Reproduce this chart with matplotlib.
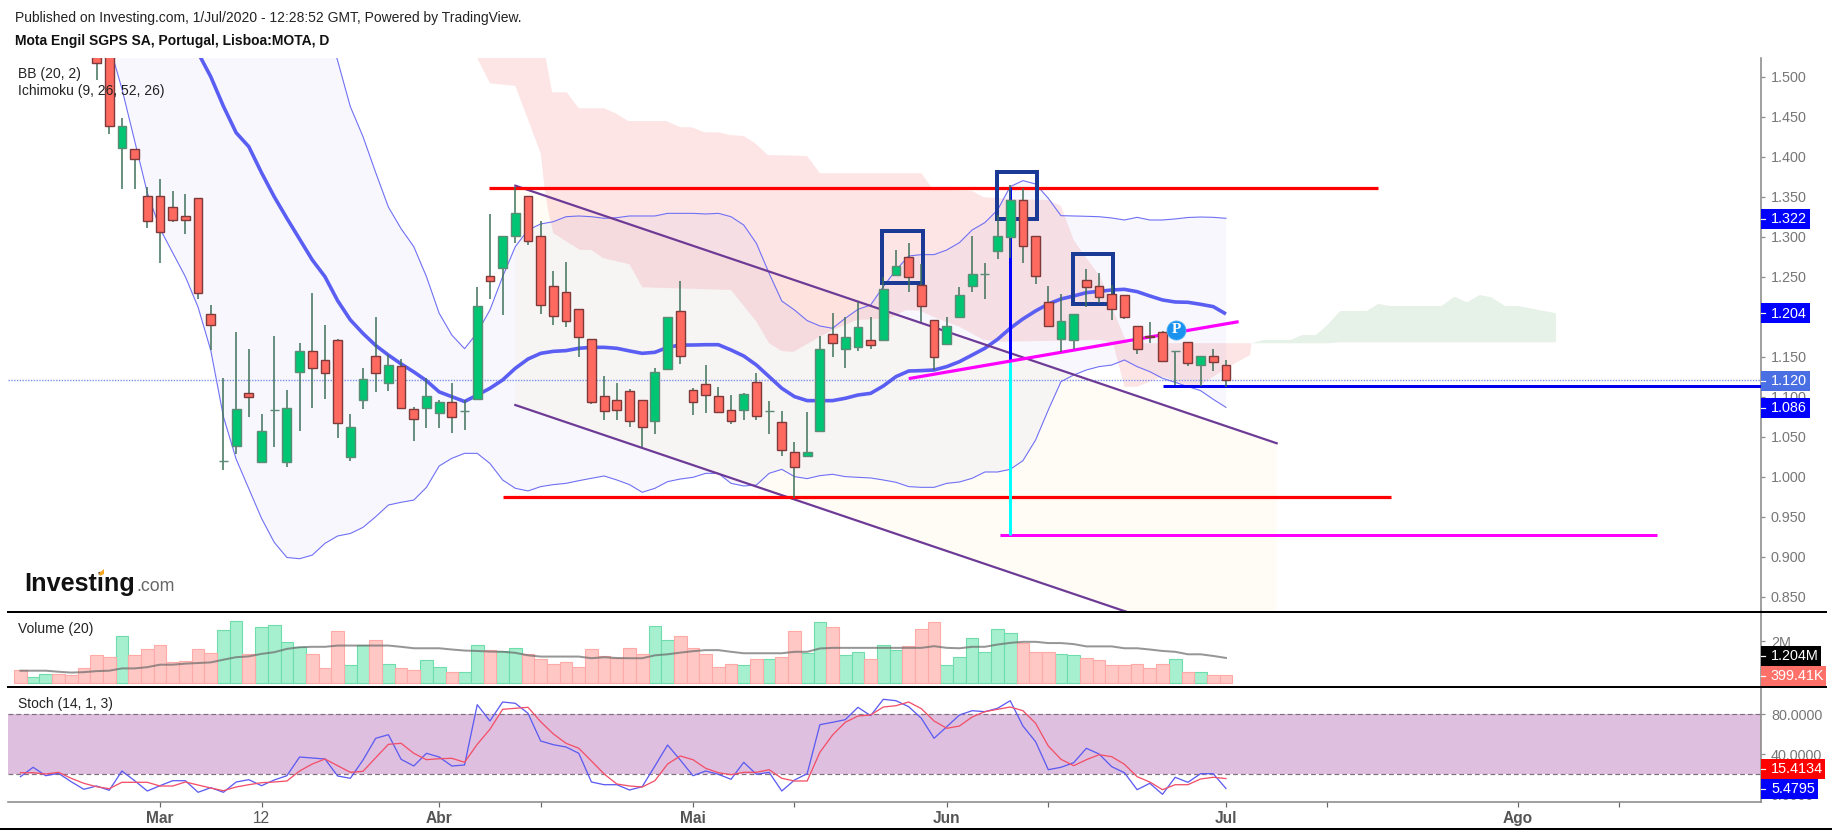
import matplotlib
matplotlib.use("Agg")
import matplotlib.pyplot as plt
from matplotlib.lines import Line2D
from matplotlib.patches import Rectangle, Polygon
import numpy as np

plt.rcParams['font.family'] = ['Liberation Sans', 'DejaVu Sans']
W, H = 1833, 830
PX = 72 / 100  # one pixel in points

# ---------- data (trading-day index, price) ----------
open_ = [1.74,1.68,1.66,1.68,1.64,1.60,1.56,1.54,1.411,1.410,1.351,1.351,1.337,1.326,1.349,1.204,1.0196,1.038,1.104,1.019,1.083,1.019,1.1305,1.157,1.146,1.171,1.025,1.096,1.151,1.1175,1.138,1.084,1.086,1.08,1.093,1.082,1.0975,1.2509,1.2605,1.3009,1.3509,1.3009,1.2384,1.2305,1.2101,1.1726,1.1009,1.0963,1.1076,1.0963,1.0697,1.1351,1.2072,1.1088,1.1163,1.1009,1.0838,1.0838,1.118,1.0821,1.068,1.0305,1.0259,1.0572,1.1788,1.1601,1.1617,1.1713,1.1713,1.2526,1.2742,1.2396,1.1963,1.1663,1.1992,1.238,1.2534,1.2817,1.2992,1.3463,1.3009,1.218,1.1726,1.1709,1.2463,1.2384,1.2288,1.2276,1.1884,1.1755,1.1805,1.1571,1.168,1.1396,1.1509,1.1401]
close_ = [1.70,1.71,1.70,1.64,1.60,1.56,1.517,1.438,1.438,1.3975,1.319,1.3055,1.321,1.321,1.230,1.1896,1.0196,1.0842,1.0993,1.0575,1.083,1.0855,1.157,1.136,1.130,1.0675,1.062,1.1225,1.130,1.14,1.086,1.0725,1.101,1.093,1.074,1.082,1.2133,1.2442,1.3009,1.3292,1.2942,1.2146,1.2005,1.1942,1.1742,1.093,1.0822,1.0834,1.0697,1.0617,1.1305,1.2,1.1509,1.093,1.1021,1.0805,1.0692,1.103,1.0759,1.0821,1.0338,1.0117,1.0305,1.1601,1.1667,1.1742,1.1867,1.1646,1.2351,1.2634,1.2492,1.2134,1.1492,1.1884,1.2276,1.2538,1.2534,1.3009,1.3463,1.288,1.2509,1.1884,1.1942,1.2038,1.2367,1.2242,1.2101,1.1992,1.1601,1.1747,1.1442,1.1571,1.1426,1.1509,1.143,1.1209]
high_ = [1.76,1.72,1.71,1.69,1.65,1.61,1.57,1.55,1.448,1.41,1.3625,1.372,1.3575,1.353,1.349,1.2146,1.123,1.181,1.159,1.078,1.176,1.108,1.1667,1.229,1.1896,1.172,1.079,1.1355,1.2,1.152,1.147,1.0875,1.123,1.096,1.117,1.096,1.2375,1.3284,1.3009,1.3617,1.3509,1.3201,1.2576,1.2688,1.2101,1.1726,1.1263,1.1167,1.1096,1.0963,1.1355,1.2001,1.2451,1.1105,1.1392,1.1126,1.1022,1.1042,1.1292,1.0951,1.0826,1.0438,1.0813,1.1763,1.2042,1.2001,1.2188,1.2001,1.2501,1.2834,1.2917,1.2659,1.1963,1.2001,1.2376,1.3013,1.2667,1.3271,1.3646,1.3613,1.3009,1.2388,1.228,1.2038,1.2592,1.2542,1.2397,1.2276,1.1884,1.1938,1.1821,1.1571,1.168,1.1509,1.1592,1.1459]
low_ = [1.69,1.67,1.65,1.63,1.59,1.55,1.496,1.428,1.36,1.36,1.311,1.2675,1.318,1.303,1.222,1.158,1.0084,1.0284,1.075,1.019,1.0375,1.0125,1.0575,1.086,1.0967,1.049,1.02,1.084,1.106,1.1075,1.084,1.045,1.061,1.061,1.055,1.059,1.0975,1.2221,1.2021,1.2926,1.2896,1.2034,1.1896,1.1876,1.1501,1.0909,1.0709,1.0709,1.0626,1.0376,1.0534,1.1351,1.1409,1.0771,1.0801,1.0805,1.0659,1.0709,1.0709,1.0534,1.0263,0.973,1.0259,1.0572,1.1501,1.1363,1.1576,1.1596,1.1713,1.2526,1.2313,1.1938,1.1334,1.1663,1.1992,1.2313,1.2222,1.2722,1.273,1.2676,1.2409,1.1884,1.1563,1.1596,1.2117,1.2167,1.1959,1.1967,1.1534,1.1676,1.1442,1.1146,1.1388,1.1134,1.1326,1.1126]

bb_mid = [1.95,1.92,1.88,1.84,1.80,1.76,1.72,1.69,1.66,1.64,1.62,1.60,1.58,1.55,1.53,1.50,1.463,1.43,1.4125,1.38,1.35,1.323,1.297,1.271,1.25,1.22,1.196,1.179,1.164,1.152,1.141,1.131,1.12,1.106,1.10,1.094,1.102,1.1105,1.1209,1.1355,1.1471,1.1542,1.1567,1.1576,1.1605,1.1617,1.1617,1.1605,1.1572,1.1542,1.1555,1.1617,1.1646,1.1646,1.165,1.165,1.1584,1.1509,1.1396,1.1251,1.1105,1.1001,1.0951,1.0951,1.0951,1.098,1.1021,1.1042,1.1134,1.1251,1.1321,1.1326,1.1334,1.1376,1.1438,1.1521,1.1605,1.1717,1.1855,1.1972,1.2072,1.2159,1.2221,1.2259,1.2301,1.2317,1.2334,1.2342,1.2313,1.2259,1.2209,1.2184,1.218,1.2155,1.2126,1.2034]
bb_upper = [2.30,2.28,2.26,2.24,2.22,2.20,2.18,2.15,2.12,2.09,2.06,2.03,2.00,1.97,1.94,1.91,1.88,1.85,1.82,1.79,1.76,1.72,1.68,1.64,1.57,1.52,1.4625,1.425,1.38,1.337,1.31,1.2875,1.25,1.2043,1.177,1.16,1.18,1.2084,1.25,1.2876,1.3084,1.3159,1.3188,1.325,1.3259,1.325,1.323,1.3238,1.3259,1.3259,1.3259,1.3292,1.3292,1.3292,1.3284,1.3292,1.325,1.3146,1.2917,1.2542,1.2196,1.2084,1.1951,1.1884,1.1855,1.198,1.2092,1.2146,1.2376,1.2584,1.2759,1.2776,1.2776,1.2834,1.2926,1.3084,1.3176,1.3334,1.3626,1.3701,1.3659,1.348,1.3263,1.3259,1.3255,1.325,1.3234,1.3209,1.3242,1.3209,1.3209,1.3222,1.324,1.3246,1.3242,1.323]
bb_lower = [1.80,1.76,1.72,1.68,1.64,1.60,1.57,1.54,1.485,1.42,1.355,1.31,1.28,1.25,1.212,1.158,1.075,1.022,0.985,0.948,0.918,0.899,0.8975,0.902,0.9167,0.9259,0.929,0.9367,0.95,0.9646,0.968,0.9708,0.9867,1.0134,1.023,1.0292,1.0292,1.0166,0.9959,0.9855,0.9822,0.9876,0.9901,0.9917,0.995,0.998,1.0009,0.9959,0.9901,0.9805,0.9855,0.9938,0.9971,0.9992,1.0042,1.0042,0.9917,0.9884,0.9896,1.0042,1.0092,1.0001,0.9976,1.0013,1.003,1.0001,0.9992,0.9984,0.9959,0.993,0.9876,0.9867,0.9867,0.9917,0.9934,0.998,1.0059,1.0059,1.0092,1.02,1.0459,1.0834,1.1188,1.1271,1.1334,1.1376,1.1396,1.1459,1.1376,1.1313,1.123,1.118,1.1126,1.1076,1.0967,1.0867]

cloud_top_x = [36,41.4,41.9,43.05,44,46,46.9,47.9,50.9,52,52.9,53.9,55,55.9,57,57.9,58.9,62,63,71,71.9,75,75.9,78.5,81,82,83,83.7,85.1,86.1,87.2,97]
cloud_top_y = [1.54,1.5234,1.4805,1.4805,1.4605,1.4605,1.4543,1.4446,1.4446,1.4368,1.4368,1.4305,1.4305,1.4271,1.4259,1.4168,1.4021,1.4009,1.3793,1.3793,1.3593,1.3571,1.3493,1.3468,1.3459,1.3384,1.2959,1.2796,1.25,1.2084,1.1668,1.1668]
cloud_low_x = [36,37,39,41,41.3,41.6,42,44.1,45,45.9,48,49,56,58,59,60,60.9,62.1,63,64,65.9,68.5,69.8,70.9,71.9,74,75.9,77.4,85.1,86.1,87,88,90,91.9,93,95,96.9,97]
cloud_low_y = [1.5234,1.4918,1.4884,1.4043,1.3609,1.3313,1.3043,1.2834,1.2834,1.2734,1.2655,1.2368,1.2334,1.1938,1.1668,1.1571,1.1559,1.1668,1.175,1.1834,1.1959,1.198,1.2084,1.2075,1.2,1.1875,1.1709,1.1688,1.1709,1.1671,1.1125,1.1125,1.125,1.1146,1.1146,1.1355,1.1521,1.1668]
green_top_x = [97,98,100.1,101,102.1,103,104,106.1,107,107.9,112,113,114,115,115.9,117,118,121]
green_top_y = [1.1668,1.1709,1.1709,1.1771,1.1771,1.1896,1.2071,1.2071,1.2159,1.2134,1.2134,1.225,1.218,1.2271,1.2243,1.2134,1.2134,1.2043]
green_low_x = [97,103,104,121]
green_low_y = [1.1668,1.1668,1.168,1.168]

channel_x = [39, 99]
channel_upper = [1.3638, 1.0418]
channel_lower = [1.0896, 0.7676]
res_x, res_y = [36.95, 107], 1.3605
sup_x, sup_y = [38, 108], 0.9747
target_x, target_y = [77.2, 129], 0.9277
trend_x, trend_y = [70, 96], [1.1226, 1.1938]
neck_x0, neck_y = 90, 1.1134
vert_x, vert_top, vert_mid, vert_bot = 78, 1.3625, 1.1459, 0.9277
boxes = [(67.87, 71.1, 1.2417, 1.3071), (76.93, 80.1, 1.3217, 1.3813), (82.93, 86.13, 1.2155, 1.2784)]
pivot_x, pivot_y = 91.07, 1.1834
last_price = 1.1205

volume = [.60,.29,.42,.44,.36,.72,1.33,1.27,2.24,1.33,1.64,1.82,1.02,1.04,1.64,1.45,2.54,2.96,1.41,2.67,2.80,1.98,1.74,1.41,.72,2.49,.85,1.82,2.07,.91,.72,.62,1.09,.78,.54,.52,1.82,1.58,1.53,1.69,1.37,1.15,.93,1.02,.78,1.64,1.28,1.19,1.69,1.41,2.73,2.07,2.24,1.69,1.41,.78,.91,.85,1.15,1.15,1.27,2.49,1.45,2.91,2.67,1.33,1.51,1.15,1.82,1.58,1.76,2.62,2.91,.85,1.27,2.18,1.51,2.62,2.42,1.93,1.51,1.51,1.40,1.33,1.20,1.09,.85,.85,.91,.72,.91,1.15,.54,.54,.40,.40]
vol_sma = [.59,.59,.59,.54,.50,.52,.57,.59,.70,.70,.76,.88,.88,.93,.96,.99,1.12,1.24,1.28,1.40,1.48,1.64,1.72,1.74,1.74,1.80,1.80,1.80,1.80,1.80,1.74,1.67,1.67,1.67,1.61,1.56,1.54,1.51,1.50,1.45,1.33,1.27,1.27,1.27,1.27,1.19,1.24,1.20,1.19,1.19,1.33,1.38,1.46,1.53,1.58,1.58,1.50,1.43,1.43,1.43,1.43,1.50,1.50,1.66,1.69,1.69,1.69,1.69,1.69,1.69,1.69,1.69,1.77,1.69,1.67,1.74,1.74,1.85,1.93,1.98,1.98,1.92,1.92,1.87,1.76,1.76,1.76,1.67,1.67,1.61,1.54,1.50,1.38,1.38,1.30,1.204]
stoch_k = [17.3,26.7,18.3,20.7,12.3,4.7,8,3.7,23,13.3,3,8.3,13.3,13.3,1.7,6.3,1.7,12,14.3,8.3,14,18.3,37,36,35,18,15.7,34,55.7,59.3,34.7,28,40.7,37,28,29,89.3,73,92,90.7,80.7,53,49.3,47,40.7,12,9.3,9.3,4,7.3,28,49,34,18.3,23,19.7,14.7,31.7,19.7,21.7,3,14,20.3,69.3,71.7,74.3,86.7,78.3,94.7,93.3,87.3,75.7,55.7,67.3,79,83.3,82.3,85.7,93.3,68,52.3,24.3,26.7,31.3,45.7,40,27.3,21.3,4.3,10.7,-0.3,16.7,11.7,20.3,20.3,5.48]
stoch_d = [21.3,21.3,20,21.7,15.7,10.7,7.3,5.3,11.7,11.7,11.7,8,8,12,9,6,3.3,7,9.3,11.3,12,13,23,30,35,28.3,21.7,22.7,36.3,49.7,50.7,40.7,34.3,35.3,35.7,31.7,49.7,64.7,84.7,85.7,86.7,72.3,60,50.7,45.7,33,20,10,8,7,13.3,30,38,34.3,25.7,21.3,19.3,21.7,21.7,24.3,15.7,13,13,41.7,59,71.7,78,79,87,88.3,92,85.3,73,65.7,68,77,82.3,84.7,87,83.3,70.7,48,34.7,28.3,34.3,39.3,37.3,29.7,17.3,12,4.3,9.3,9.3,15,16.7,15.41]

price_ticks = [1.5,1.45,1.4,1.35,1.3,1.25,1.2,1.15,1.1,1.05,1.0,0.95,0.9,0.85]
x_tick_pos = [11,19,33,41,53,61,73,81,95,103,118,126]
x_tick_lab = ['Mar','12','Abr','','Mai','','Jun','','Jul','','Ago','']
x_tick_bold = ['Mar','Abr','Mai','Jun','Jul','Ago']

# ---------- layout ----------
fig = plt.figure(figsize=(W/100, H/100), dpi=100, facecolor='white')
def axes_px(l, t, r, b):
    return fig.add_axes([l/W, 1-b/H, (r-l)/W, (b-t)/H])
L, R = 8, 1761.5
XL = ((L-20.4)/12.69, (R-20.4)/12.69)
ax = axes_px(L, 58, R, 611)
av = axes_px(L, 611, R, 686)
ast = axes_px(L, 686, R, 801.7)
ax.set_ylim(1.5-(611-76.7)/800, 1.5-(58-76.7)/800)
av.set_ylim(-3/20.5, 71/20.5)
ast.set_ylim(80-(801.7-714), 80-(686-714))
AXC = '#8a8a8a'; TXT = '#777777'
for a in (ax, av, ast):
    a.set_xlim(*XL)
    a.set_facecolor('none')
    for s in ('left', 'top', 'bottom'):
        a.spines[s].set_visible(False)
    a.spines['right'].set_color(AXC); a.spines['right'].set_linewidth(1.6*PX)
    a.yaxis.tick_right()
    a.tick_params(axis='y', length=3.5*PX, width=1.2*PX, color=AXC, labelcolor=TXT, labelsize=10.4, pad=6*PX)
    a.set_xticks([])
ast.spines['bottom'].set_visible(True)
ast.spines['bottom'].set_color(AXC); ast.spines['bottom'].set_linewidth(1.6*PX)

x = np.arange(len(close_))
# ---------- fills ----------
ax.add_patch(Polygon(list(zip(channel_x, channel_upper)) + list(zip(channel_x[::-1], channel_lower[::-1])),
                     closed=True, fc=(1, .80, .35, .05), ec='none', zorder=1))
ax.fill(cloud_top_x + cloud_low_x[::-1], cloud_top_y + cloud_low_y[::-1], fc=(.94, .235, .275, .135), ec='none', zorder=1.2)
ax.fill(green_top_x + green_low_x[::-1], green_top_y + green_low_y[::-1], fc=(.2, .55, .235, .12), ec='none', zorder=1.2)
ax.fill_between(x, bb_lower, bb_upper, fc=(.13, .13, .78, .035), ec='none', zorder=1.4)

# ---------- annotations below candles ----------
ax.axhline(last_price, color='#7b93ea', lw=1.4*PX, ls=(0, (1, 1)), zorder=2)
ax.plot(x, bb_upper, color='#6f6ff5', lw=1.1*PX, zorder=2.2)
ax.plot(x, bb_lower, color='#6f6ff5', lw=1.1*PX, zorder=2.2)
ax.plot(x, bb_mid, color='#5a5ef2', lw=3.6*PX, zorder=2.3, solid_capstyle='butt')
for ys in (channel_upper, channel_lower):
    ax.plot(channel_x, ys, color='#6d3a96', lw=2.2*PX, zorder=2.5)
ax.plot(res_x, [res_y, res_y], color='#ff0000', lw=3.2*PX, zorder=2.6, solid_capstyle='butt')
ax.plot(sup_x, [sup_y, sup_y], color='#ff0000', lw=3.2*PX, zorder=2.6, solid_capstyle='butt')
ax.plot(target_x, [target_y, target_y], color='#ff00ff', lw=3*PX, zorder=2.6, solid_capstyle='butt')
ax.plot([vert_x, vert_x], [vert_top, vert_mid], color='#0000ff', lw=3*PX, zorder=2.7, solid_capstyle='butt')
ax.plot([vert_x, vert_x], [vert_mid, vert_bot], color='#00ffff', lw=3*PX, zorder=2.7, solid_capstyle='butt')
ax.plot(trend_x, trend_y, color='#ff00ff', lw=3.2*PX, zorder=2.8, solid_capstyle='butt')
ax.plot([neck_x0, XL[1]], [neck_y, neck_y], color='#0000ee', lw=3*PX, zorder=2.8, solid_capstyle='butt')
for x0, x1, y0, y1 in boxes:
    ax.add_patch(Rectangle((x0, y0), x1-x0, y1-y0, fill=False, ec='#1a3a96', lw=4*PX, zorder=2.9, joinstyle='miter'))

# ---------- candles ----------
o, c, hi, lo = map(np.array, (open_, close_, high_, low_))
up = c >= o
ax.vlines(x, lo, hi, color='#3c6f58', lw=1.5*PX, zorder=3)
body_w = 8.8/12.69
ax.bar(x[up], (c-o)[up], bottom=o[up], width=body_w, color='#00c572', edgecolor='#5c8b76', linewidth=1.4*PX, zorder=3.2)
ax.bar(x[~up], (c-o)[~up], bottom=o[~up], width=body_w, color='#ff6a60', edgecolor='#7e3a3a', linewidth=1.4*PX, zorder=3.2)
# P marker
ax.plot([pivot_x], [pivot_y], 'o', ms=19*PX, mfc='#1a92ee', mec='#4fb0f5', mew=0.6, zorder=5)
ax.text(pivot_x, pivot_y, 'P', color='white', fontsize=11, fontweight='bold', family=['Liberation Serif'],
        ha='center', va='center', zorder=6)
ax.set_yticks(price_ticks)
ax.set_yticklabels(['%.3f' % t for t in price_ticks])

# ---------- volume ----------
v = np.array(volume)
av.bar(x[up], v[up], width=1.0, color='#a6efcf', edgecolor='#6fdcab', linewidth=1.1*PX, zorder=2)
av.bar(x[~up], v[~up], width=1.0, color='#ffc8c5', edgecolor='#ffaaa6', linewidth=1.1*PX, zorder=2)
av.plot(x, vol_sma, color='#6a6a6a', alpha=.7, lw=2*PX, zorder=3)
av.set_yticks([0, 2]); av.set_yticklabels(['0', '2M'])

# ---------- stochastic ----------
ast.axhspan(20, 80, fc='#dfbfdf', ec='none', zorder=1)
for lev in (20, 80):
    ast.axhline(lev, color='#7f6f7f', lw=1.2*PX, ls=(0, (4, 2.5)), zorder=1.5)
ast.plot(x, stoch_k, color='#5c5cf2', lw=1.3*PX, zorder=3)
ast.plot(x, stoch_d, color='#f25068', lw=1.3*PX, zorder=3)
ast.set_yticks([0, 40, 80]); ast.set_yticklabels(['0.0000', '40.0000', '80.0000'])
ast.set_xticks(x_tick_pos)
ast.set_xticklabels(x_tick_lab)
ast.tick_params(axis='x', length=4.5*PX, width=1.2*PX, color='#666666', labelsize=11.2, labelcolor='#555555', pad=5*PX)
for lab in ast.get_xticklabels():
    if lab.get_text() in x_tick_bold:
        lab.set_fontweight('bold')

# ---------- text and tags ----------
def T(px, py, s, **kw):
    kw.setdefault('va', 'center'); kw.setdefault('color', '#222222')
    return fig.text(px/W, 1-py/H, s, **kw)
T(15, 18, 'Published on Investing.com, 1/Jul/2020 - 12:28:52 GMT, Powered by TradingView.', fontsize=10.0)
T(15, 41, 'Mota Engil SGPS SA, Portugal, Lisboa:MOTA, D', fontsize=10.0, fontweight='bold', color='#111111')
T(18, 74, 'BB (20, 2)', fontsize=10.0)
T(18, 91, 'Ichimoku (9, 26, 52, 26)', fontsize=10.0)
T(18, 629, 'Volume (20)', fontsize=10.0)
T(18, 704, 'Stoch (14, 1, 3)', fontsize=10.0)
fig.text(24/W, 1-591/H, 'Investing', fontsize=18.2, fontweight='bold', color='#111111', va='baseline')
fig.text(136/W, 1-591/H, '.com', fontsize=12.8, color='#666666', va='baseline')
fig.add_artist(Polygon([(99/W, 1-573/H), (104/W, 1-569/H), (104/W, 1-574/H), (100/W, 1-576/H)],
                       closed=True, transform=fig.transFigure, fc='#f5a623', ec='none', zorder=6))

def tag(a, val, label, right, color, dy=0):
    py = H - a.transData.transform((0, val))[1] + dy
    fig.add_artist(Rectangle((R/W, 1-(py+10)/H), (right-R)/W, 20/H, transform=fig.transFigure,
                             fc=color, ec='none', zorder=8))
    fig.add_artist(Line2D([R/W, (R+3.5)/W], [1-py/H, 1-py/H], color='white', lw=1.2*PX, zorder=8.5))
    T(1771, py, label, color='white', fontsize=10.4, zorder=9)

tag(ax, 1.322, '1.322', 1810, '#0000ff')
tag(ax, 1.204, '1.204', 1810, '#0000ff')
tag(ax, 1.120, '1.120', 1810, '#4a6fe3')
tag(ax, 1.086, '1.086', 1810, '#0000ff')
tag(av, 1.204, '1.204M', 1821, '#000000', dy=-2)
tag(av, 0.39941, '399.41K', 1826, '#ff7068', dy=1)
tag(ast, 15.4134, '15.4134', 1825, '#ff0000', dy=-9.5)
tag(ast, 5.4795, '5.4795', 1818, '#0000ff')

for yy in (611.5, 686.5):
    fig.add_artist(Line2D([L/W, 1826/W], [1-yy/H, 1-yy/H], color='#000000', lw=2*PX, zorder=7))
fig.add_artist(Line2D([0, 1], [1-829/H, 1-829/H], color='#000000', lw=2*PX, zorder=7))

fig.savefig('out.png', dpi=100, facecolor='white')
